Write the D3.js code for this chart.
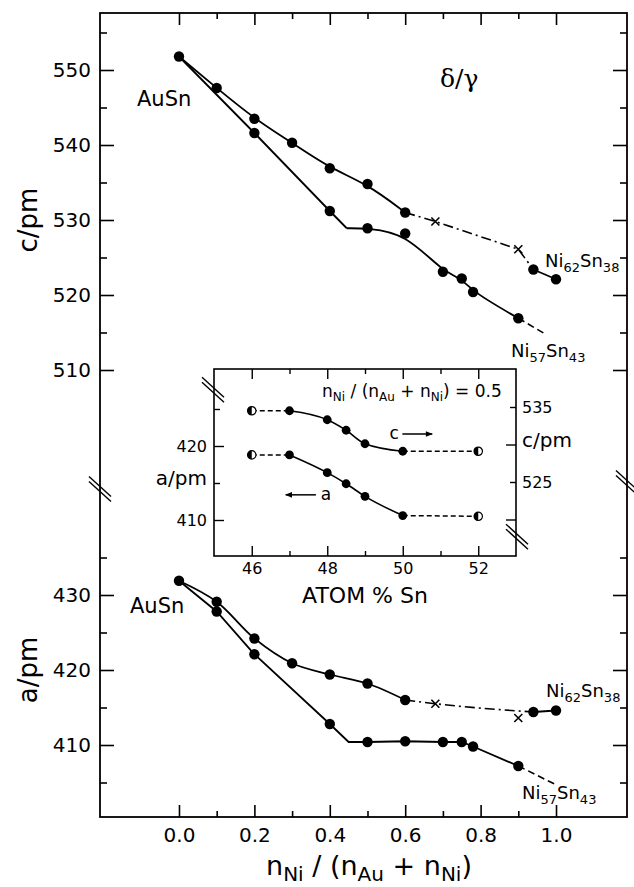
<!DOCTYPE html>
<html>
<head>
<meta charset="utf-8">
<script src="https://d3js.org/d3.v7.min.js"></script>
<style>
  body { margin: 0; background: #fff; }
  svg text { font-family: "DejaVu Sans", sans-serif; fill: #000; white-space: pre; }
</style>
</head>
<body>
<svg id="chart" width="634" height="887"></svg>
<script>
// ---- data ----
// x = n_Ni / (n_Au + n_Ni)
// top panel, c/pm
const cUpperPts = [[0.0, 551.8], [0.1, 547.6], [0.2, 543.5], [0.3, 540.3], [0.4, 536.9],
                   [0.5, 534.8], [0.6, 531.0], [0.94, 523.4], [1.0, 522.1]];
const cUpperCross = [[0.68, 529.8], [0.9, 526.1]];
const cDashDot = [[0.6, 531.0], [0.68, 529.8], [0.9, 526.1], [0.94, 523.4]];
const cLowerPts = [[0.2, 541.6], [0.4, 531.2], [0.5, 528.9], [0.6, 528.2], [0.7, 523.1],
                   [0.75, 522.2], [0.78, 520.4], [0.9, 516.9]];
const cLowerKink = [0.445, 528.9];
const cLowerEnd = [0.975, 514.7];

// bottom panel, a/pm
const aUpperPts = [[0.0, 431.9], [0.1, 429.1], [0.2, 424.2], [0.3, 420.9], [0.4, 419.4],
                   [0.5, 418.2], [0.6, 416.0], [0.94, 414.4], [1.0, 414.6]];
const aUpperCross = [[0.68, 415.5], [0.9, 413.6]];
const aDashDot = [[0.6, 416.0], [0.68, 415.5], [0.94, 414.4]];
const aLowerPts = [[0.1, 427.8], [0.2, 422.1], [0.4, 412.8], [0.5, 410.4], [0.6, 410.5],
                   [0.7, 410.4], [0.75, 410.4], [0.78, 409.8], [0.9, 407.2]];
const aLowerKink = [0.45, 410.4];
const aLowerEnd = [1.0, 404.7];

// inset, n_Ni/(n_Au+n_Ni) = 0.5
const insetSn = [46, 47, 48, 48.5, 49, 50, 52];
const insetC = [534.5, 534.5, 533.3, 531.9, 530.1, 529.1, 529.1];
const insetA = [418.8, 418.8, 416.4, 414.9, 413.2, 410.6, 410.5];

// ticks
const xMajor = [0, 0.2, 0.4, 0.6, 0.8, 1.0];
const xMinor = [0.1, 0.3, 0.5, 0.7, 0.9];
const cMajor = [510, 520, 530, 540, 550];
const cMinor = [515, 525, 535, 545, 555];
const aMajor = [410, 420, 430];
const aMinor = [405, 415, 425, 435];

// ---- layout ----
const svg = d3.select("#chart");
const frame = {left: 100, right: 627, top: 13, bottom: 817};
const breakY = 487;

const x = d3.scaleLinear().domain([-0.2095, 1.1883]).range([frame.left, frame.right]);
const yC = d3.scaleLinear().domain([510, 550]).range([370, 70]);
const yA = d3.scaleLinear().domain([410, 430]).range([745, 595]);

const inset = {left: 214, right: 516, top: 369, bottom: 556};
const ix = d3.scaleLinear().domain([45, 53]).range([inset.left, inset.right]);
const iA = d3.scaleLinear().domain([410, 420]).range([520, 446]);
const iC = d3.scaleLinear().domain([525, 535]).range([482, 407]);

function axis(axisFn, scale, values, len, opts) {
    opts = opts || {};
    const ax = axisFn(scale).tickValues(values)
        .tickSizeInner(-len).tickSizeOuter(0)
        .tickPadding(opts.pad || 0)
        .tickFormat(opts.fmt || (() => ""));
    const g = svg.append("g").attr("transform", opts.at).call(ax);
    g.select(".domain").remove();
    g.attr("font-family", null).attr("font-size", opts.size || 20);
    g.selectAll("line").attr("stroke", "#000").attr("stroke-width", opts.sw || 1.6);
    g.selectAll("text").attr("fill", "#000");
    return g;
}

function richText(parts, o) {
    const t = svg.append("text")
        .attr("x", o.x).attr("y", o.y)
        .attr("font-size", o.size)
        .attr("text-anchor", o.anchor || "start");
    let down = false;
    parts.forEach(function (p) {
        const ts = t.append("tspan").text(p[0]);
        if (p[1]) {
            ts.attr("font-size", o.sub);
            if (!down) { ts.attr("dy", o.shift); down = true; }
        } else if (down) {
            ts.attr("dy", -o.shift); down = false;
        }
    });
    return t;
}

function breakMark(cx, cy) {
    [-2.5, 2.5].forEach(function (off) {
        svg.append("line")
            .attr("x1", cx - 11).attr("y1", cy - 10 + off)
            .attr("x2", cx + 11).attr("y2", cy + 10 + off)
            .attr("stroke", "#000").attr("stroke-width", 1.4);
    });
}

// ---- main frame and axes ----
svg.append("rect")
    .attr("x", frame.left).attr("y", frame.top)
    .attr("width", frame.right - frame.left).attr("height", frame.bottom - frame.top)
    .attr("fill", "none").attr("stroke", "#000").attr("stroke-width", 1.8);

const fmt1 = d3.format(".1f");
axis(d3.axisBottom, x, xMajor, 12, {at: `translate(0,${frame.bottom})`, fmt: fmt1, pad: 11});
axis(d3.axisBottom, x, xMinor, 6, {at: `translate(0,${frame.bottom})`});
axis(d3.axisTop, x, xMajor, 12, {at: `translate(0,${frame.top})`});
axis(d3.axisTop, x, xMinor, 6, {at: `translate(0,${frame.top})`});

axis(d3.axisLeft, yC, cMajor, 14, {at: `translate(${frame.left},0)`, fmt: d => d, pad: 9});
axis(d3.axisLeft, yC, cMinor, 7, {at: `translate(${frame.left},0)`});
axis(d3.axisLeft, yA, aMajor, 14, {at: `translate(${frame.left},0)`, fmt: d => d, pad: 9});
axis(d3.axisLeft, yA, aMinor, 7, {at: `translate(${frame.left},0)`});
axis(d3.axisRight, yC, cMajor, 14, {at: `translate(${frame.right},0)`});
axis(d3.axisRight, yC, cMinor, 7, {at: `translate(${frame.right},0)`});
axis(d3.axisRight, yA, aMajor, 14, {at: `translate(${frame.right},0)`});
axis(d3.axisRight, yA, aMinor, 7, {at: `translate(${frame.right},0)`});

breakMark(frame.left, breakY + 2);
breakMark(frame.right, breakY - 4);

// axis titles
svg.append("text")
    .attr("transform", `translate(37,${yC(530)}) rotate(-90)`)
    .attr("text-anchor", "middle").attr("font-size", 26).text("c/pm");
svg.append("text")
    .attr("transform", `translate(37,${yA(420)}) rotate(-90)`)
    .attr("text-anchor", "middle").attr("font-size", 26).text("a/pm");
richText([["n"], ["Ni", 1], [" / (n"], ["Au", 1], [" + n"], ["Ni", 1], [")"]],
    {x: 369, y: 875, size: 27, sub: 20, shift: 6, anchor: "middle"});

// ---- data lines ----
function drawLine(pts, yScale, curve, dash, sw) {
    const line = d3.line().x(d => x(d[0])).y(d => yScale(d[1])).curve(curve);
    svg.append("path").datum(pts)
        .attr("d", line)
        .attr("fill", "none").attr("stroke", "#000")
        .attr("stroke-width", sw || 1.8)
        .attr("stroke-dasharray", dash || null);
}
function drawDots(pts, yScale) {
    svg.append("g").selectAll("circle").data(pts).join("circle")
        .attr("cx", d => x(d[0])).attr("cy", d => yScale(d[1]))
        .attr("r", 5.2).attr("fill", "#000");
}
function drawCrosses(pts, yScale) {
    svg.append("g").selectAll("path").data(pts).join("path")
        .attr("transform", d => `translate(${x(d[0])},${yScale(d[1])})`)
        .attr("d", "M-4,-4L4,4M-4,4L4,-4")
        .attr("stroke", "#000").attr("stroke-width", 1.6);
}

const dashDot = "10,4,2,4";
const dashed = "7,4";

// top panel
drawLine(cUpperPts.slice(0, 7), yC, d3.curveBasis);
drawLine(cDashDot, yC, d3.curveLinear, dashDot, 1.6);
drawLine(cUpperPts.slice(7), yC, d3.curveLinear);
drawLine([cUpperPts[0], cLowerPts[0], cLowerPts[1], cLowerKink], yC, d3.curveLinear);
drawLine([cLowerKink].concat(cLowerPts.slice(2)), yC, d3.curveBasis);
drawLine([cLowerPts[cLowerPts.length - 1], cLowerEnd], yC, d3.curveLinear, dashed, 1.6);
drawDots(cUpperPts, yC);
drawDots(cLowerPts, yC);
drawCrosses(cUpperCross, yC);

// bottom panel
drawLine(aUpperPts.slice(0, 7), yA, d3.curveCatmullRom);
drawLine(aDashDot, yA, d3.curveMonotoneX, dashDot, 1.6);
drawLine(aUpperPts.slice(7), yA, d3.curveLinear);
drawLine([aUpperPts[0]].concat(aLowerPts.slice(0, 3), [aLowerKink], aLowerPts.slice(3)), yA, d3.curveLinear);
drawLine([aLowerPts[aLowerPts.length - 1], aLowerEnd], yA, d3.curveLinear, dashed, 1.6);
drawDots(aUpperPts, yA);
drawDots(aLowerPts, yA);
drawCrosses(aUpperCross, yA);

// labels
svg.append("text").attr("x", 137).attr("y", 106).attr("font-size", 21).text("AuSn");
svg.append("text").attr("x", 130).attr("y", 613).attr("font-size", 21).text("AuSn");
svg.append("text").attr("x", 440).attr("y", 87)
    .style("font-family", "'DejaVu Serif', serif").attr("font-size", 25).text("δ/γ");
const ni62 = [["Ni"], ["62", 1], ["Sn"], ["38", 1]];
const ni57 = [["Ni"], ["57", 1], ["Sn"], ["43", 1]];
richText(ni62, {x: 545, y: 267, size: 18, sub: 13, shift: 5});
richText(ni57, {x: 511, y: 357, size: 18, sub: 13, shift: 5});
richText(ni62, {x: 546, y: 697, size: 18, sub: 13, shift: 5});
richText(ni57, {x: 522, y: 799, size: 18, sub: 13, shift: 5});

// ---- inset ----
svg.append("rect")
    .attr("x", inset.left).attr("y", inset.top)
    .attr("width", inset.right - inset.left).attr("height", inset.bottom - inset.top)
    .attr("fill", "#fff").attr("stroke", "#000").attr("stroke-width", 1.6);

axis(d3.axisBottom, ix, [46, 48, 50, 52], 10, {at: `translate(0,${inset.bottom})`, fmt: d => d, pad: 7, size: 16, sw: 1.4});
axis(d3.axisBottom, ix, [47, 49, 51], 5, {at: `translate(0,${inset.bottom})`, sw: 1.4});
axis(d3.axisTop, ix, [46, 48, 50, 52], 10, {at: `translate(0,${inset.top})`, sw: 1.4});
axis(d3.axisTop, ix, [47, 49, 51], 5, {at: `translate(0,${inset.top})`, sw: 1.4});
axis(d3.axisLeft, iA, [410, 420], 10, {at: `translate(${inset.left},0)`, fmt: d => d, pad: 7, size: 16, sw: 1.4});
axis(d3.axisLeft, iA, [415, 425], 6, {at: `translate(${inset.left},0)`, sw: 1.4});
axis(d3.axisRight, iC, [525, 535], 6, {at: `translate(${inset.right},0)`, fmt: d => d, pad: 6, size: 16, sw: 1.4});
axis(d3.axisRight, iC, [520, 530], 10, {at: `translate(${inset.right},0)`, sw: 1.4});

breakMark(inset.left - 1, iA(427.6));
breakMark(inset.right + 1, iC(517.7));

svg.append("text").attr("x", inset.left - 7).attr("y", iA(415)).attr("dy", "0.1em")
    .attr("text-anchor", "end").attr("font-size", 20).text("a/pm");
svg.append("text").attr("x", inset.right + 6).attr("y", iC(530)).attr("dy", "0.1em")
    .attr("font-size", 20).text("c/pm");
svg.append("text").attr("x", (inset.left + inset.right) / 2).attr("y", 603)
    .attr("text-anchor", "middle").attr("font-size", 22).text("ATOM % Sn");
richText([["n"], ["Ni", 1], [" / (n"], ["Au", 1], [" + n"], ["Ni", 1], [") = 0.5"]],
    {x: 322, y: 397, size: 17, sub: 12, shift: 4});

const insetC2 = insetSn.map((s, i) => [s, insetC[i]]);
const insetA2 = insetSn.map((s, i) => [s, insetA[i]]);
function insetSeries(pts, yScale) {
    const line = d3.line().x(d => ix(d[0])).y(d => yScale(d[1]));
    const n = pts.length;
    svg.append("path").datum(pts.slice(0, 2)).attr("d", line)
        .attr("fill", "none").attr("stroke", "#000").attr("stroke-width", 1.5).attr("stroke-dasharray", "5,3");
    svg.append("path").datum(pts.slice(1, n - 1)).attr("d", line.curve(d3.curveMonotoneX))
        .attr("fill", "none").attr("stroke", "#000").attr("stroke-width", 1.6);
    svg.append("path").datum(pts.slice(n - 2)).attr("d", line.curve(d3.curveLinear))
        .attr("fill", "none").attr("stroke", "#000").attr("stroke-width", 1.5).attr("stroke-dasharray", "5,3");
    svg.append("g").selectAll("circle").data(pts.slice(1, n - 1)).join("circle")
        .attr("cx", d => ix(d[0])).attr("cy", d => yScale(d[1]))
        .attr("r", 4.4).attr("fill", "#000");
    // half-filled end points
    const ends = svg.append("g").selectAll("g").data([pts[0], pts[n - 1]]).join("g")
        .attr("transform", d => `translate(${ix(d[0])},${yScale(d[1])})`);
    ends.append("circle").attr("r", 4.2).attr("fill", "#fff").attr("stroke", "#000").attr("stroke-width", 1.2);
    ends.append("path").attr("d", "M0,-4.2A4.2,4.2 0 0 0 0,4.2Z").attr("fill", "#000");
}
insetSeries(insetC2, iC);
insetSeries(insetA2, iA);

// arrows
svg.append("defs").append("marker")
    .attr("id", "head").attr("viewBox", "0 0 10 10")
    .attr("refX", 9).attr("refY", 5)
    .attr("markerWidth", 9).attr("markerHeight", 7)
    .attr("markerUnits", "userSpaceOnUse")
    .attr("orient", "auto")
    .append("path").attr("d", "M0,1L10,5L0,9Z").attr("fill", "#000");

svg.append("text").attr("x", ix(49.65)).attr("y", iC(531.4)).attr("dy", "0.3em")
    .attr("font-size", 17).text("c");
svg.append("line")
    .attr("x1", ix(49.99)).attr("y1", iC(531.4)).attr("x2", ix(50.78)).attr("y2", iC(531.4))
    .attr("stroke", "#000").attr("stroke-width", 1.5).attr("marker-end", "url(#head)");
svg.append("text").attr("x", ix(47.83)).attr("y", iA(413.4)).attr("dy", "0.3em")
    .attr("font-size", 17).text("a");
svg.append("line")
    .attr("x1", ix(47.7)).attr("y1", iA(413.4)).attr("x2", ix(46.9)).attr("y2", iA(413.4))
    .attr("stroke", "#000").attr("stroke-width", 1.5).attr("marker-end", "url(#head)");
</script>
</body>
</html>
